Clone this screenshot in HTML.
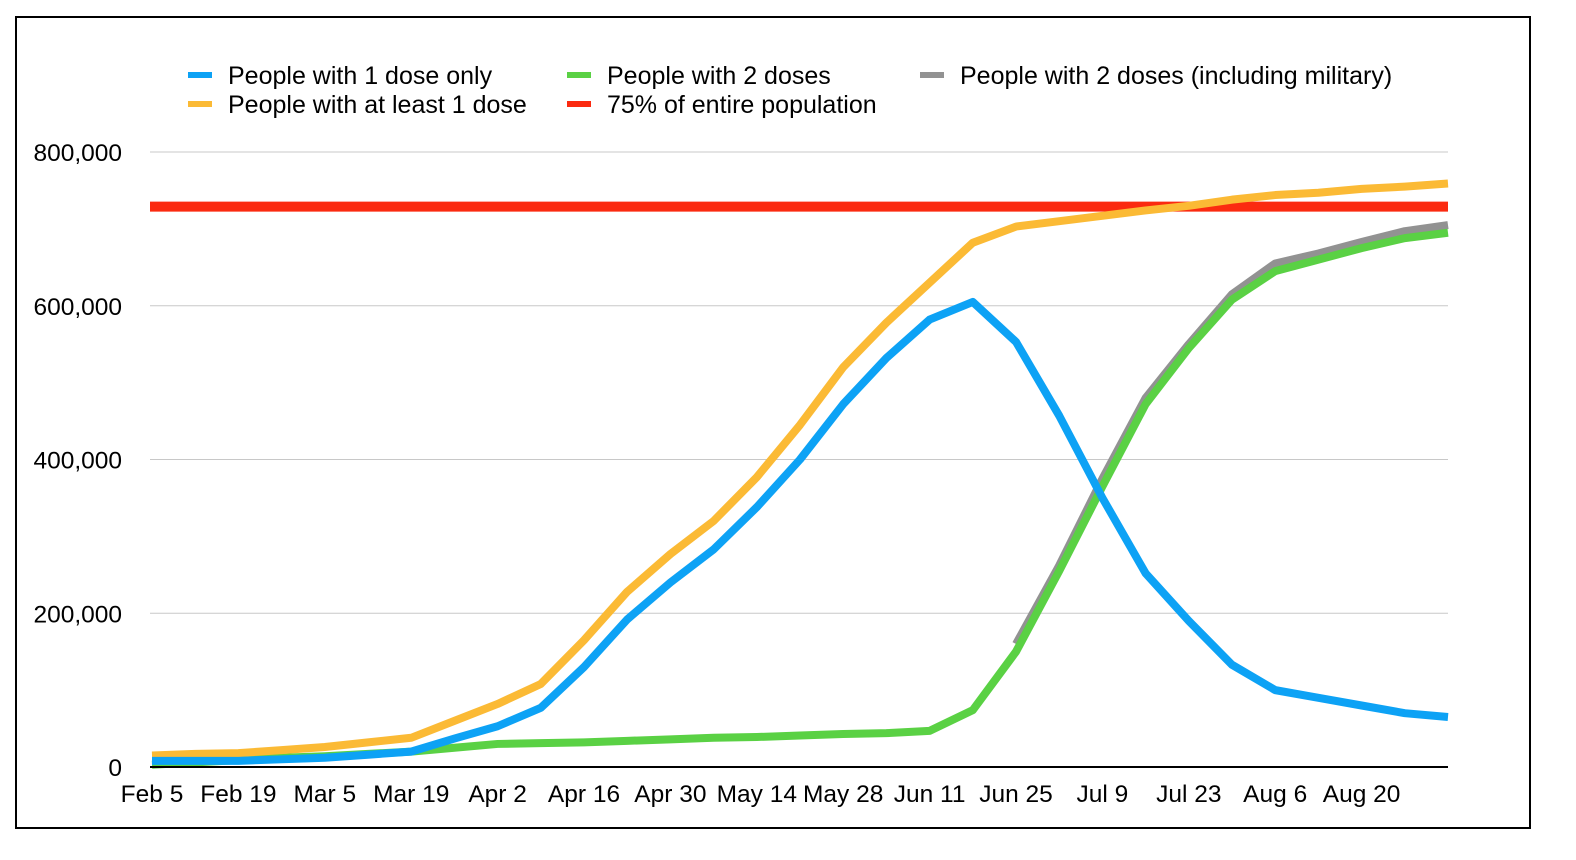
<!DOCTYPE html>
<html><head><meta charset="utf-8"><style>
body{margin:0;background:#fff;}
svg{display:block;font-family:"Liberation Sans",Arial,sans-serif;}
</style></head><body>
<svg id="chart" width="1576" height="860">
<rect x="16" y="17" width="1514" height="811" fill="none" stroke="#000" stroke-width="2"/>
<g id="grid"></g><g id="series"></g><g id="axes"></g><g id="legend"></g>
</svg>
<script>
const yTicks=[0,200000,400000,600000,800000];
const xLabels=["Feb 5","Feb 19","Mar 5","Mar 19","Apr 2","Apr 16","Apr 30","May 14","May 28","Jun 11","Jun 25","Jul 9","Jul 23","Aug 6","Aug 20"];
const oneDoseOnly=[8000,8000,8000,10000,12000,16000,20000,37000,53000,77000,130000,192000,240000,283000,338000,400000,472000,532000,582000,605000,553000,457000,350000,252000,190000,133000,100000,90000,80000,70000,65000];
const atLeastOne=[15000,17000,18000,22000,26000,32000,38000,60000,82000,108000,165000,228000,277000,320000,377000,445000,520000,578000,630000,682000,703000,710000,717000,724000,730000,738000,744000,747000,752000,755000,759000];
const twoDoses=[3000,6000,9000,12000,14000,17000,20000,25000,30000,31000,32000,34000,36000,38000,39000,41000,43000,44000,47000,74000,150000,255000,365000,472000,545000,608000,645000,660000,675000,688000,695000];
const twoDosesMil=[null,null,null,null,null,null,null,null,null,null,null,null,null,null,null,null,null,null,null,null,160000,262000,375000,480000,550000,615000,655000,668000,683000,697000,705000];
const target75=729000;
const NS="http://www.w3.org/2000/svg";
const X0=152,DX=43.2,Y0=767,YS=615/800000,XR=1448;
const x=i=>X0+DX*i, y=v=>Y0-v*YS;
function mk(t,a,p){const e=document.createElementNS(NS,t);for(const k in a)e.setAttribute(k,a[k]);p.appendChild(e);return e;}
const grid=document.getElementById('grid'),axes=document.getElementById('axes'),ser=document.getElementById('series'),leg=document.getElementById('legend');
yTicks.forEach(v=>{
 if(v>0){const l=mk('line',{x1:150,x2:XR,y1:y(v),y2:y(v),stroke:'#c8c8c8','stroke-width':1},grid);
 
 }
 const t=mk('text',{x:122,y:y(v)+9,'text-anchor':'end','font-size':24.5,fill:'#000'},axes);
 t.textContent=v.toLocaleString('en-US');
 
 
});
const ax=mk('line',{x1:150,x2:XR,y1:Y0,y2:Y0,stroke:'#000','stroke-width':2},axes);


xLabels.forEach((s,j)=>{const t=mk('text',{x:x(j*2),y:802,'text-anchor':'middle','font-size':24.5,fill:'#000'},axes);t.textContent=s;
 
 });
const rl=mk('line',{x1:150,x2:XR,y1:y(target75),y2:y(target75),stroke:'#fb2a10','stroke-width':10},ser);


function line(data,color,name){let d='';data.forEach((v,i)=>{if(v==null)return;d+=(d?'L':'M')+x(i)+','+y(v);});
 const p=mk('path',{d:d,fill:'none',stroke:color,'stroke-width':8,'stroke-linejoin':'round'},ser);
 
 }
line(twoDosesMil,'#929292','series-2-doses-military');
line(twoDoses,'#5ad144','series-2-doses');
line(atLeastOne,'#fbba35','series-at-least-1-dose');
line(oneDoseOnly,'#0da2f5','series-1-dose-only');
const L=[[188,75,'#0da2f5','People with 1 dose only'],[567,75,'#5ad144','People with 2 doses'],[920,75,'#929292','People with 2 doses (including military)'],[188,104,'#fbba35','People with at least 1 dose'],[567,104,'#fb2a10','75% of entire population']];
L.forEach(e=>{const g=mk('g',{},leg);
 
 
 mk('line',{x1:e[0],x2:e[0]+24,y1:e[1],y2:e[1],stroke:e[2],'stroke-width':6},g);
 const t=mk('text',{x:e[0]+40,y:e[1]+9,'font-size':25,fill:'#000'},g);t.textContent=e[3];});
</script>
</body></html>
